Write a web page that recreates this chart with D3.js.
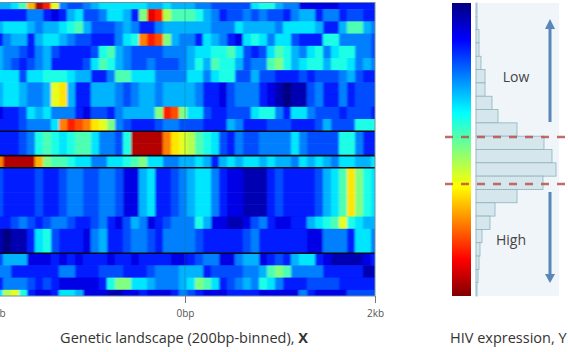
<!DOCTYPE html>
<html>
<head>
<meta charset="UTF-8">
<title>Genetic landscape and HIV expression</title>
<style>
html, body { margin: 0; padding: 0; background: #fff; overflow: hidden; }
svg { display: block; font-family: "Open Sans", sans-serif; }
.tick text { fill: #555; font-size: 10px; font-family: "Open Sans", sans-serif; }
</style>
</head>
<body>
<div id="chart"></div>
<script src="https://cdn.jsdelivr.net/npm/d3@7"></script>
<script>
// heatmap values, one array per row, top to bottom (0 = navy ... 20 = dark red)
var landscape = [
	[6,6,7,9,14,19,17,12,5,4,4,5,6,7,7,7,7,7,7,6,6,7,6,6,6,5,5,4,4,4,4,4,7,8,8,6,5,5,2,2,2,2,2,3,3,3,3,3],
	[3,3,3,3,5,5,3,2,3,6,7,4,4,5,7,7,6,3,10,18,17,11,9,9,9,8,6,5,3,4,4,5,4,5,4,4,3,5,6,6,3,5,5,3,4,4,3,3],
	[6,7,7,7,6,5,6,6,7,8,9,6,4,4,4,5,6,5,3,3,5,6,6,6,6,6,6,5,5,5,7,6,6,6,6,5,7,7,7,7,6,3,3,6,9,9,6,5],
	[3,5,6,6,3,6,7,7,6,5,4,4,3,3,3,5,7,8,15,17,16,10,6,5,5,3,7,6,5,3,2,7,8,7,5,7,7,4,3,3,3,8,8,5,5,5,5,4],
	[6,5,5,4,3,5,6,4,3,3,3,3,4,8,9,6,5,4,4,4,4,5,5,5,6,7,7,8,8,9,7,4,3,4,7,9,8,6,5,7,8,5,7,8,8,5,5,4],
	[6,5,4,3,4,5,6,3,3,3,3,4,7,9,8,6,5,4,4,5,4,4,4,5,6,8,6,9,8,8,6,4,5,5,9,10,8,6,7,8,8,6,8,8,7,5,6,5],
	[7,7,7,4,7,7,8,8,8,7,6,6,3,3,5,9,9,7,7,7,5,5,5,5,7,7,5,7,8,8,4,4,6,4,4,3,3,3,4,3,4,4,4,5,6,4,3,3],
	[6,7,7,6,5,5,6,12,13,6,3,3,6,6,6,5,4,5,6,6,5,6,6,6,6,5,3,3,2,4,5,5,5,3,2,1,0,1,1,4,5,3,3,5,3,4,4,4],
	[6,7,7,6,5,5,6,12,13,6,3,3,6,6,6,5,4,5,6,6,5,6,6,6,6,5,3,3,2,4,5,5,5,3,2,1,0,1,1,4,5,3,3,5,3,4,4,4],
	[2,3,3,4,7,6,7,5,5,5,3,2,4,4,3,5,6,6,6,6,10,17,16,10,7,7,4,3,3,4,4,4,7,8,8,5,3,7,7,5,4,4,4,3,4,4,4,3],
	[3,3,3,4,5,5,5,7,15,17,16,15,13,12,10,5,4,3,3,3,4,5,5,4,4,4,3,3,3,6,5,3,3,3,4,4,4,3,3,3,4,6,4,4,4,8,8,8],
	[3,3,3,4,5,8,9,8,7,8,9,9,7,5,5,4,8,19,19,19,19,15,13,12,11,9,8,7,4,3,5,4,4,5,5,5,5,7,5,4,4,4,4,8,8,5,3,3],
	[3,3,3,4,5,8,9,8,7,8,9,9,7,5,5,4,8,19,19,19,19,15,13,12,11,9,8,7,4,3,5,4,4,5,5,5,5,7,5,4,4,4,4,8,8,5,3,3],
	[15,19,19,19,19,14,10,9,9,8,7,7,5,5,7,7,8,9,10,7,7,5,5,6,6,7,6,3,6,7,6,7,7,6,7,6,6,5,7,6,7,6,5,7,7,6,6,7],
	[4,3,3,3,3,4,3,3,4,5,5,4,4,5,5,4,2,2,6,7,3,3,4,5,6,7,7,5,3,2,2,1,1,1,3,4,3,3,3,3,4,6,7,9,13,10,8,7],
	[4,3,3,3,3,4,3,3,4,5,5,4,4,5,5,4,2,2,6,7,3,3,4,5,6,7,7,5,3,2,2,1,1,1,3,4,3,3,3,3,4,6,7,9,13,10,8,7],
	[4,3,3,3,3,4,3,3,4,5,5,4,4,5,5,4,2,2,6,7,3,3,4,5,6,7,7,5,3,2,2,1,1,1,3,4,3,3,3,3,4,6,7,9,13,10,8,7],
	[4,3,3,3,3,4,3,3,4,5,5,4,4,5,5,4,2,2,6,7,3,3,4,5,6,7,7,5,3,2,2,1,1,1,3,4,3,3,3,3,4,6,7,9,13,10,8,7],
	[3,3,4,5,4,3,4,5,5,4,3,3,4,5,3,2,4,6,5,2,3,4,5,5,5,8,6,2,2,1,1,2,4,5,3,2,2,3,3,6,7,8,9,12,8,7,6,6],
	[1,0,1,1,3,7,8,4,3,3,3,2,5,6,3,3,4,5,5,4,3,5,5,5,5,4,3,3,3,3,3,4,5,3,3,3,3,3,3,2,2,5,5,5,3,7,7,5],
	[1,0,1,1,3,7,8,4,3,3,3,2,5,6,3,3,4,5,5,4,3,5,5,5,5,4,3,3,3,3,3,4,5,3,3,3,3,3,3,2,2,5,5,5,3,7,7,5],
	[4,6,6,6,2,2,2,3,2,3,2,3,3,3,2,3,3,2,3,3,3,3,2,2,3,4,5,5,2,2,5,6,6,2,3,4,3,6,7,7,3,2,1,1,1,1,2,3],
	[5,5,3,3,3,3,3,3,5,5,3,3,3,4,4,4,3,3,3,4,5,5,5,6,6,6,3,4,4,4,4,5,5,6,9,10,9,5,5,5,5,3,3,3,3,3,1,1],
	[3,5,5,5,4,3,4,3,2,2,2,2,2,3,8,10,10,7,7,6,5,5,5,6,7,10,9,7,3,4,5,6,5,8,7,5,3,3,3,4,4,4,4,3,3,3,3,3],
	[7,11,12,8,3,2,2,3,7,7,6,2,2,2,1,1,2,2,3,2,2,2,3,5,4,3,2,2,2,3,3,3,3,2,2,2,2,2,5,3,2,2,2,2,4,4,4,4]
];
// rows with a black line on their upper edge
var separatorRows = [11, 13, 14, 21];
var tickPositions = [-2000, 0, 2000];
var tickLabels = ["-2kb", "0bp", "2kb"];

// histogram of HIV expression, one count per bin, top to bottom
var expressionCounts = [1,1,3,3,5,9,9,16,22,41,68,76,80,67,41,19,14,6,4,3,2,1];
var cutoffLevels = [137, 184];

var jetStops = ["#000080", "#0000ff", "#00ffff", "#ffff00", "#ff0000", "#800000"];
var jetDomain = [0, 2.5, 7.5, 12.5, 17.5, 20];

var width = 568,
	height = 352;

var svg = d3.select("#chart")
	.append("svg")
	.attr("width", width)
	.attr("height", height);

var jet = d3.scaleLinear().domain(jetDomain).range(jetStops);

var defs = svg.append("defs");
defs.append("clipPath").attr("id", "heatClip")
	.append("rect").attr("x", 0).attr("y", 3).attr("width", 375).attr("height", 293);
defs.append("filter").attr("id", "soft")
	.attr("x", "-2%").attr("y", "-2%").attr("width", "104%").attr("height", "104%")
	.append("feGaussianBlur").attr("stdDeviation", "1.1 0.5");
defs.append("filter").attr("id", "softer")
	.append("feGaussianBlur").attr("stdDeviation", 0.4);

var gradient = defs.append("linearGradient").attr("id", "jetBar")
	.attr("x1", 0).attr("y1", 0).attr("x2", 0).attr("y2", 1);
jetDomain.forEach(function(d, i) {
	gradient.append("stop").attr("offset", d / 20).attr("stop-color", jetStops[i]);
});

// heatmap
var xBand = d3.scaleBand().domain(d3.range(48)).range([-5, 379]);
var yBand = d3.scaleBand().domain(d3.range(landscape.length)).range([-3, 302]);
var xAxisScale = d3.scaleLinear().domain([-2000, 2000]).range([-5, 375]);

var heat = svg.append("g").attr("clip-path", "url(#heatClip)");
var cells = heat.append("g").attr("filter", "url(#soft)");
landscape.forEach(function(row, r) {
	cells.selectAll(".row" + r)
		.data(row)
		.enter().append("rect")
		.attr("class", "row" + r)
		.attr("x", function(d, i) { return xBand(i); })
		.attr("y", yBand(r))
		.attr("width", xBand.bandwidth() + 0.5)
		.attr("height", yBand.bandwidth() + 0.5)
		.attr("fill", function(d) { return jet(d); });
});

heat.append("line")
	.attr("x1", xAxisScale(0)).attr("x2", xAxisScale(0))
	.attr("y1", 3).attr("y2", 296)
	.attr("stroke", "#0f7f8f").attr("stroke-opacity", 0.45);

heat.selectAll(".separator")
	.data(separatorRows)
	.enter().append("line")
	.attr("class", "separator")
	.attr("x1", 0).attr("x2", 375)
	.attr("y1", function(d) { return yBand(d); })
	.attr("y2", function(d) { return yBand(d); })
	.attr("stroke", "#0a0a14").attr("stroke-width", 1.6);

svg.append("rect")
	.attr("x", -1).attr("y", 2.5).attr("width", 376).attr("height", 293.5)
	.attr("fill", "none").attr("stroke", "#6f8fa0").attr("stroke-width", 1);

// x axis
var xAxis = d3.axisBottom(xAxisScale)
	.tickValues(tickPositions)
	.tickSize(7)
	.tickPadding(7)
	.tickFormat(function(d, i) { return tickLabels[i]; });
var axisGroup = svg.append("g")
	.attr("transform", "translate(0,296)")
	.call(xAxis);
axisGroup.select(".domain").remove();
axisGroup.selectAll(".tick line").attr("stroke", "#777");

var title = svg.append("text")
	.attr("x", 184).attr("y", 343)
	.attr("text-anchor", "middle")
	.attr("font-size", 14.5)
	.attr("fill", "#333");
title.append("tspan").text("Genetic landscape (200bp-binned), ");
title.append("tspan").attr("font-weight", "bold").text("X");

// colour bar
var right = svg.append("g");
right.append("rect")
	.attr("x", 452).attr("y", 3).attr("width", 19).attr("height", 293)
	.attr("fill", "url(#jetBar)");

// histogram panel
right.append("rect")
	.attr("x", 475).attr("y", 3).attr("width", 84).attr("height", 293)
	.attr("fill", "#eff5f9");

var yBins = d3.scaleBand().domain(d3.range(expressionCounts.length)).range([3, 296]);
var xCount = d3.scaleLinear().domain([0, 80]).range([476, 556]);

var bars = right.append("g").attr("filter", "url(#softer)");
bars.selectAll("rect")
	.data(expressionCounts)
	.enter().append("rect")
	.attr("x", xCount(0))
	.attr("y", function(d, i) { return yBins(i); })
	.attr("width", function(d) { return xCount(d) - xCount(0); })
	.attr("height", yBins.bandwidth())
	.attr("fill", "#d6e6ed")
	.attr("stroke", "#8fb3bf")
	.attr("stroke-width", 0.8);

right.append("text")
	.attr("x", 516).attr("y", 82)
	.attr("text-anchor", "middle")
	.attr("font-size", 14)
	.attr("fill", "#444")
	.text("Low");
right.append("text")
	.attr("x", 511).attr("y", 245)
	.attr("text-anchor", "middle")
	.attr("font-size", 14)
	.attr("fill", "#444")
	.text("High");

// arrows
var arrowColor = "#5b86b8";
right.append("line")
	.attr("x1", 550).attr("x2", 550).attr("y1", 122).attr("y2", 28)
	.attr("stroke", arrowColor).attr("stroke-width", 3);
right.append("path")
	.attr("d", d3.line()([[550, 19], [555, 29], [545, 29]]))
	.attr("fill", arrowColor);
right.append("line")
	.attr("x1", 550).attr("x2", 550).attr("y1", 192).attr("y2", 275)
	.attr("stroke", arrowColor).attr("stroke-width", 3);
right.append("path")
	.attr("d", d3.line()([[550, 283], [555, 274], [545, 274]]))
	.attr("fill", arrowColor);

// cutoffs
right.selectAll(".cutoff")
	.data(cutoffLevels)
	.enter().append("line")
	.attr("class", "cutoff")
	.attr("x1", 445).attr("x2", 568)
	.attr("y1", function(d) { return d; })
	.attr("y2", function(d) { return d; })
	.attr("stroke", "#b5544f")
	.attr("stroke-width", 2.4)
	.attr("stroke-opacity", 0.85)
	.attr("stroke-dasharray", "8,8");

svg.append("text")
	.attr("x", 450).attr("y", 343)
	.attr("font-size", 14.5)
	.attr("fill", "#333")
	.text("HIV expression, Y");
</script>
</body>
</html>
